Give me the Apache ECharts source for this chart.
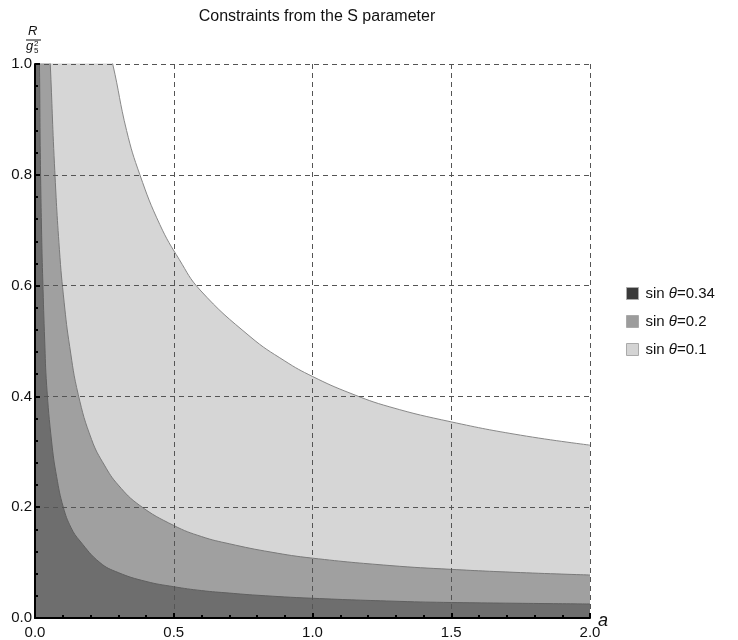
<!DOCTYPE html>
<html>
<head>
<meta charset="utf-8">
<script src="https://cdn.jsdelivr.net/npm/echarts@6/dist/echarts.min.js"></script>
<style>html,body{margin:0;padding:0;background:#fff}#c{width:738px;height:640px}</style>
</head>
<body>
<div id="c"></div>
<script>
// ---- data (a, R/g5^2); first point at a=0 is off-scale (curve diverges) ----
const OFF_SCALE = 1.6;
const seriesNames = ['sin θ=0.34', 'sin θ=0.2', 'sin θ=0.1'];
const legendLabels = ['0.34', '0.2', '0.1'];

const aLight = [0, 0.28, 0.33, 0.378, 0.45, 0.52, 0.595, 0.775, 0.9, 1.0, 1.135, 1.279, 1.5, 1.75, 2.0];
const rLight = [OFF_SCALE, 1.0, 0.88, 0.8, 0.71, 0.647, 0.592, 0.508, 0.464, 0.436, 0.406, 0.381, 0.354, 0.330, 0.312];

const aMed = [0, 0.055, 0.070, 0.088, 0.105, 0.125, 0.156, 0.204, 0.25, 0.3, 0.378, 0.5, 0.6, 0.7, 0.85, 1.0, 1.279, 1.5, 1.75, 2.0];
const rMed = [OFF_SCALE, 1.0, 0.82, 0.665, 0.57, 0.49, 0.403, 0.322, 0.276, 0.24, 0.203, 0.167, 0.147, 0.134, 0.119, 0.108, 0.0947, 0.0878, 0.082, 0.0776];

const aDark = [0, 0.016, 0.019, 0.024, 0.028, 0.035, 0.042, 0.06, 0.078, 0.102, 0.13, 0.162, 0.234, 0.3, 0.4, 0.5, 0.6, 0.7, 0.8, 1.0, 1.315, 1.5, 2.0];
const rDark = [OFF_SCALE, 1.0, 0.84, 0.69, 0.61, 0.5, 0.42, 0.318, 0.255, 0.2, 0.163, 0.139, 0.100, 0.082, 0.066, 0.0565, 0.0495, 0.045, 0.0411, 0.0356, 0.030, 0.028, 0.0253];

const xTicks = [0, 0.5, 1.0, 1.5, 2.0];
const yTicks = [0, 0.2, 0.4, 0.6, 0.8, 1.0];

const zip = (a, r) => a.map((v, i) => [v, r[i]]);

const fills = ['#6e6e6e', '#a0a0a0', '#d6d6d6'];
const strokes = ['#606060', '#7a7a7a', '#888888'];
const swatches = ['#3a3a3a', '#9c9c9c', '#d4d4d4'];
const dataSets = [zip(aDark, rDark), zip(aMed, rMed), zip(aLight, rLight)];

const chart = echarts.init(document.getElementById('c'), null, {renderer: 'canvas'});
const FONT = 'Liberation Sans, Arial, sans-serif';

const series = [2, 1, 0].map((i, k) => ({
  name: seriesNames[i],
  type: 'line',
  data: dataSets[i],
  showSymbol: false,
  smooth: 0.45,
  clip: true,
  z: 2 + k,
  itemStyle: {color: swatches[i]},
  lineStyle: {color: strokes[i], width: 1},
  areaStyle: {color: fills[i], opacity: 1},
  animation: false
}));

const axisCommon = {
  axisLine: {show: true, onZero: false, lineStyle: {color: '#000', width: 2}},
  axisTick: {show: true, inside: true, length: 5, lineStyle: {color: '#000', width: 2}},
  minorTick: {show: true, splitNumber: 5, length: 3, lineStyle: {color: '#000', width: 2}},
  splitLine: {show: true, lineStyle: {color: '#555', width: 1, type: [5, 4]}},
  axisLabel: {color: '#111', fontSize: 15, fontFamily: FONT, formatter: v => v.toFixed(1)},
  z: 10
};

chart.setOption({
  animation: false,
  backgroundColor: '#fff',
  title: {
    text: 'Constraints from the S parameter',
    left: 312, top: 4, textAlign: 'center',
    textStyle: {fontSize: 16, fontWeight: 'normal', color: '#111', fontFamily: FONT}
  },
  grid: {left: 35, right: 148, top: 64, bottom: 22, containLabel: false},
  xAxis: Object.assign({}, axisCommon, {
    type: 'value', min: xTicks[0], max: xTicks[xTicks.length - 1], interval: 0.5,
    axisLabel: Object.assign({}, axisCommon.axisLabel, {margin: 7})
  }),
  yAxis: Object.assign({}, axisCommon, {
    type: 'value', min: yTicks[0], max: yTicks[yTicks.length - 1], interval: 0.2,
    axisLabel: Object.assign({}, axisCommon.axisLabel, {margin: 3})
  }),
  legend: {
    orient: 'vertical', left: 621, top: 281,
    itemWidth: 12, itemHeight: 12, itemGap: 13,
    icon: 'rect',
    data: seriesNames.map((n, i) => ({name: n, itemStyle: {color: swatches[i], borderColor: '#aaa', borderWidth: 1}})),
    formatter: name => '{t|sin }{i|θ}{t|=' + legendLabels[seriesNames.indexOf(name)] + '}',
    textStyle: {
      fontSize: 15, color: '#111', fontFamily: FONT, padding: [0, 0, 0, 2],
      rich: {t: {fontSize: 15, color: '#111', fontFamily: FONT}, i: {fontSize: 15, fontStyle: 'italic', color: '#111', fontFamily: FONT}}
    }
  },
  graphic: [
    {type: 'text', left: 28, top: 25, style: {text: 'R', font: 'italic 13px ' + FONT, fill: '#111'}, z: 20},
    {type: 'line', shape: {x1: 26, y1: 40, x2: 41, y2: 40}, style: {stroke: '#111', lineWidth: 1}, z: 20},
    {type: 'text', left: 26, top: 40, style: {text: 'g', font: 'italic 13px ' + FONT, fill: '#111'}, z: 20},
    {type: 'text', left: 34, top: 40, style: {text: '2', font: '8px ' + FONT, fill: '#111'}, z: 20},
    {type: 'text', left: 34, top: 47, style: {text: '5', font: '8px ' + FONT, fill: '#111'}, z: 20},
    {type: 'text', left: 598, top: 612, style: {text: 'a', font: 'italic 18px ' + FONT, fill: '#111'}, z: 20}
  ],
  series: series
});
</script>
</body>
</html>
